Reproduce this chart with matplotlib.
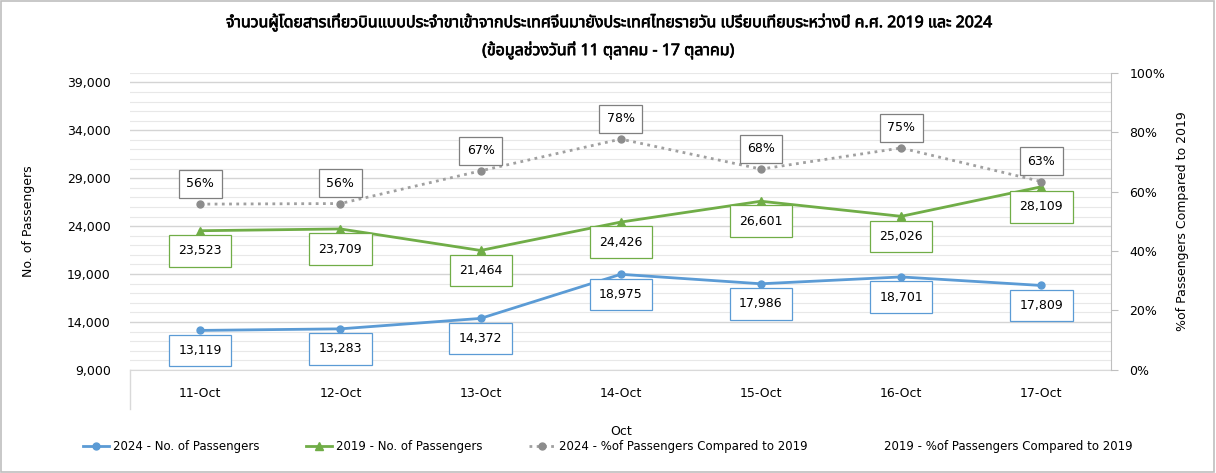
import matplotlib
matplotlib.use("Agg")
from matplotlib import pyplot as plt
from matplotlib.ticker import FuncFormatter, MultipleLocator, FixedLocator
from matplotlib.patches import Rectangle
import matplotlib.patheffects as pe

plt.rcParams['font.family'] = ['DejaVu Sans']

# data
days = ["11-Oct", "12-Oct", "13-Oct", "14-Oct", "15-Oct", "16-Oct", "17-Oct"]
pax_2024 = [13119, 13283, 14372, 18975, 17986, 18701, 17809]
pax_2019 = [23523, 23709, 21464, 24426, 26601, 25026, 28109]
pct_2024 = [0.558, 0.560, 0.670, 0.777, 0.676, 0.747, 0.634]

title1 = "จำนวนผู้โดยสารเที่ยวบินแบบประจำขาเข้าจากประเทศจีนมายังประเทศไทยรายวัน เปรียบเทียบระหว่างปี ค.ศ. 2019 และ 2024"
title2 = "(ข้อมูลช่วงวันที่ 11 ตุลาคม - 17 ตุลาคม)"

blue = "#5B9BD5"
green = "#70AD47"
gray = "#8C8C8C"

fig = plt.figure(figsize=(12.16, 4.73), dpi=100)
ax = fig.add_axes([0.107, 0.218, 0.807, 0.628])
ax2 = ax.twinx()

x = list(range(len(days)))

ax.plot(x, pax_2024, color=blue, lw=2.0, marker="o", ms=5, label="2024 - No. of Passengers", zorder=3)
ax.plot(x, pax_2019, color=green, lw=2.0, marker="^", ms=6, label="2019 - No. of Passengers", zorder=3)
ax2.plot(x, pct_2024, color="#A0A0A0", lw=2, ls=(0, (1, 1.6)), marker="o", ms=5,
         mfc=gray, mec=gray, label="2024 - %of Passengers Compared to 2019")
ax2.plot([], [], color="none", label="2019 - %of Passengers Compared to 2019")

ax.set_xlim(-0.5, len(days) - 0.5)
ax.set_ylim(9000, 40000)
ax.set_yticks(range(9000, 40000, 5000))
ax.yaxis.set_minor_locator(FixedLocator(range(9000, 40001, 1000)))
ax.yaxis.set_major_formatter(FuncFormatter(lambda v, p: "{:,.0f}".format(v)))
ax.grid(axis="y", which="major", color="#D4D4D4", lw=1)
ax.grid(axis="y", which="minor", color="#E8E8E8", lw=0.8)
ax.set_axisbelow(True)
ax.tick_params(axis="y", which="both", length=0, labelsize=9, pad=14)
ax.set_xticks(x)
ax.set_xticklabels(days)
ax.tick_params(axis="x", length=0, labelsize=9, pad=12)
for s in ["top", "left", "right"]:
    ax.spines[s].set_visible(False)
ax.spines["bottom"].set_color("#D9D9D9")

ax2.set_ylim(0, 1.0)
ax2.yaxis.set_major_locator(MultipleLocator(0.2))
ax2.yaxis.set_major_formatter(FuncFormatter(lambda v, p: "{:.0f}%".format(v * 100)))
ax2.tick_params(axis="y", length=5, color="#BFBFBF", labelsize=9, pad=8)
for s in ["top", "left", "bottom"]:
    ax2.spines[s].set_visible(False)
ax2.spines["right"].set_color("#BFBFBF")

ax.set_ylabel("No. of Passengers", fontsize=9, labelpad=23)
ax2.set_ylabel("%of Passengers Compared to 2019", fontsize=9, rotation=90, labelpad=8)
ax.set_xlabel("Oct", fontsize=9, labelpad=18)

# data labels
box = dict(boxstyle="square,pad=0.75", fc="white", lw=0.9)
for i in x:
    ax.annotate("{:,}".format(pax_2024[i]), (i, pax_2024[i]), xytext=(0, -14.5), textcoords="offset points",
                ha="center", va="center", fontsize=9, zorder=5, bbox=dict(box, ec=blue))
    ax.annotate("{:,}".format(pax_2019[i]), (i, pax_2019[i]), xytext=(0, -14.5), textcoords="offset points",
                ha="center", va="center", fontsize=9, zorder=5, bbox=dict(box, ec=green))
    ax2.annotate("{:.0f}%".format(pct_2024[i] * 100), (i, pct_2024[i]), xytext=(0, 14.5), textcoords="offset points",
                 ha="center", va="center", fontsize=9, zorder=5,
                 bbox=dict(boxstyle="square,pad=0.6", fc="white", ec="#7F7F7F", lw=0.9))

# left category boundary tick
ax.plot([-0.5, -0.5], [0, -0.13], transform=ax.get_xaxis_transform(), color="#D9D9D9", lw=1, clip_on=False)

h1, l1 = ax.get_legend_handles_labels()
h2, l2 = ax2.get_legend_handles_labels()
fig.legend(h1 + h2, l1 + l2, loc="center", bbox_to_anchor=(0.5, 0.055), ncol=4, frameon=False,
           fontsize=8.5, columnspacing=4.0, handlelength=2.2, handletextpad=0.3)

bold = [pe.withStroke(linewidth=0.5, foreground="black")]
fig.text(0.5, 0.952, title1, ha="center", va="center", fontsize=11.5,
         family=["Noto Sans Thai", "DejaVu Sans"], path_effects=bold)
fig.text(0.5, 0.893, title2, ha="center", va="center", fontsize=11.5,
         family=["Noto Sans Thai", "DejaVu Sans"], path_effects=bold)

fig.patches.append(Rectangle((0.001, 0.002), 0.997, 0.995, transform=fig.transFigure,
                             fill=False, ec="#BFBFBF", lw=1.2))

fig.savefig("out.png", dpi=100)
